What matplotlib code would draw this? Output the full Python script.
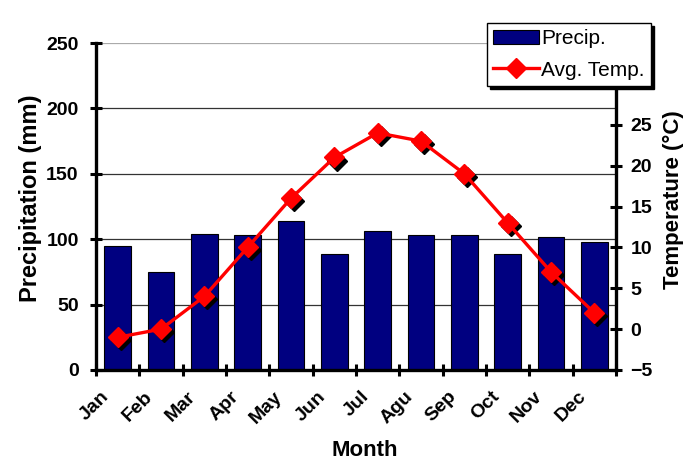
import matplotlib
matplotlib.use('Agg')
import matplotlib.pyplot as plt
import numpy as np
import matplotlib.transforms as mtransforms

months = ['Jan', 'Feb', 'Mar', 'Apr', 'May', 'Jun', 'Jul', 'Agu', 'Sep', 'Oct', 'Nov', 'Dec']
precip = [95, 75, 104, 103, 114, 89, 106, 103, 103, 89, 102, 98]
temp = [-1, 0, 4, 10, 16, 21, 24, 23, 19, 13, 7, 2]
precip_ticks = [0, 50, 100, 150, 200, 250]
temp_ticks = [-5, 0, 5, 10, 15, 20, 25]

plt.rcParams['font.family'] = ['Liberation Sans', 'DejaVu Sans']

fig = plt.figure(figsize=(6.9, 4.66), dpi=100)
W, H = 690, 466
ax = fig.add_axes([96 / W, (H - 370) / H, (616 - 96) / W, (370 - 43) / H])
x = np.arange(len(months))
bars = ax.bar(x, precip, width=0.62, color='#000080', edgecolor='black',
              linewidth=0.8, label='Precip.', zorder=2)
ax.set_xlim(-0.5, len(months) - 0.5)
ax.set_ylim(0, 250)
ax.set_yticks(precip_ticks)
ax.yaxis.grid(True, color='#333333', linewidth=0.9)
ax.set_axisbelow(True)
ax.get_ygridlines()[-1].set_color('#aaaaaa')

# x ticks: boundaries as major (marks), centers as minor (labels)
ax.set_xticks(np.arange(len(months) + 1) - 0.5)
ax.set_xticklabels([])
ax.set_xticks(x, minor=True)
ax.set_xticklabels(months, minor=True, rotation=45, ha='right', va='top',
                   fontsize=14, fontweight='bold')
ax.tick_params(axis='x', which='minor', length=0, pad=13)
ax.tick_params(axis='x', which='major', direction='inout', length=9, width=2.2)
ax.tick_params(axis='y', which='major', direction='inout', length=9, width=2.2,
               labelsize=14, pad=8)
for lbl in ax.get_yticklabels():
    lbl.set_fontweight('bold')
shift = mtransforms.ScaledTranslation(-5 / 100, 0, fig.dpi_scale_trans)
for lbl in ax.get_xticklabels(minor=True):
    lbl.set_transform(lbl.get_transform() + shift)

for s in ['left', 'bottom']:
    ax.spines[s].set_linewidth(2.4)
    ax.spines[s].set_color('black')
ax.spines['top'].set_visible(False)
ax.spines['right'].set_visible(False)

ax.set_ylabel('Precipitation (mm)', fontsize=17, fontweight='bold')
ax.yaxis.set_label_coords(-0.104, 0.526)
ax.set_xlabel('Month', fontsize=16, fontweight='bold')
ax.xaxis.set_label_coords(0.517, -0.214)

ax2 = ax.twinx()
ax2.set_ylim(-5, 35)
ax2.set_yticks(temp_ticks)
ax2.tick_params(axis='y', direction='inout', length=9, width=2.2, labelsize=14, pad=6)
for lbl in ax2.get_yticklabels():
    lbl.set_fontweight('bold')
for s in ['left', 'bottom', 'top']:
    ax2.spines[s].set_visible(False)
ax2.spines['right'].set_linewidth(2.4)
ax2.spines['right'].set_color('black')

shadow_tr = ax2.transData + mtransforms.ScaledTranslation(2.2 / 72, -2.2 / 72, fig.dpi_scale_trans)
ax2.plot(x, temp, linestyle='none', marker='D', markersize=10, color='black',
         transform=shadow_tr, zorder=3)
line, = ax2.plot(x, temp, color='#ff0000', linewidth=2.4, marker='D', markersize=10,
                 markerfacecolor='#ff0000', markeredgecolor='#ff0000',
                 label='Avg. Temp.', zorder=4)
ax2.set_ylabel('Temperature (°C)', fontsize=16, fontweight='bold', rotation=90)
ax2.yaxis.set_label_coords(1.09, 0.52)

leg = ax2.legend([bars, line], ['Precip.', 'Avg. Temp.'], loc='upper left',
                 bbox_to_anchor=(487 / W, 1 - 23 / H), bbox_transform=fig.transFigure,
                 borderaxespad=0, fancybox=False, edgecolor='black', framealpha=1,
                 shadow={'color': 'black', 'alpha': 1}, fontsize=15,
                 handlelength=2.2, handletextpad=0.1, borderpad=0.3, labelspacing=0.6)
leg.get_frame().set_linewidth(1.0)
leg.set_zorder(10)

fig.savefig('out.png', dpi=100)
